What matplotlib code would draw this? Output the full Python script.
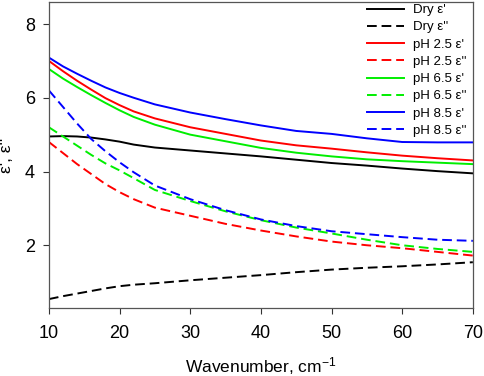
import matplotlib
matplotlib.use("Agg")
import matplotlib.pyplot as plt

plt.rcParams['font.family'] = ['Liberation Sans', 'DejaVu Sans']
plt.rcParams['mathtext.default'] = 'regular'

# wavenumber, cm-1
wn = [10, 12, 14, 16, 18, 20, 22, 25, 30, 35, 40, 45, 50, 55, 60, 65, 70]

# real part (eps') and imaginary part (eps'') for each sample
dry_re = [4.95, 4.96, 4.95, 4.92, 4.87, 4.81, 4.73, 4.65, 4.57, 4.49, 4.41, 4.32, 4.23, 4.16, 4.08, 4.01, 3.95]
dry_im = [0.54, 0.62, 0.69, 0.76, 0.83, 0.89, 0.93, 0.97, 1.05, 1.12, 1.19, 1.27, 1.34, 1.39, 1.43, 1.48, 1.54]
ph25_re = [7.00, 6.72, 6.46, 6.22, 5.99, 5.80, 5.63, 5.44, 5.20, 5.02, 4.84, 4.71, 4.62, 4.52, 4.43, 4.36, 4.30]
ph25_im = [4.80, 4.50, 4.20, 3.93, 3.66, 3.44, 3.25, 3.02, 2.80, 2.58, 2.40, 2.24, 2.10, 2.00, 1.92, 1.82, 1.72]
ph65_re = [6.78, 6.52, 6.29, 6.07, 5.86, 5.66, 5.48, 5.27, 5.00, 4.82, 4.64, 4.51, 4.41, 4.33, 4.28, 4.24, 4.20]
ph65_im = [5.20, 4.95, 4.70, 4.45, 4.22, 4.03, 3.82, 3.50, 3.20, 2.92, 2.68, 2.48, 2.32, 2.15, 2.00, 1.90, 1.82]
ph85_re = [7.09, 6.85, 6.65, 6.46, 6.28, 6.13, 6.00, 5.82, 5.60, 5.42, 5.25, 5.10, 5.02, 4.90, 4.80, 4.79, 4.79]
ph85_im = [6.20, 5.75, 5.30, 4.88, 4.55, 4.25, 3.98, 3.62, 3.25, 2.95, 2.70, 2.52, 2.38, 2.30, 2.22, 2.15, 2.12]

series = [
    ("Dry ε'", dry_re, 'black', '-'),
    ("Dry ε''", dry_im, 'black', '--'),
    ("pH 2.5 ε'", ph25_re, '#ff0000', '-'),
    ("pH 2.5 ε''", ph25_im, '#ff0000', '--'),
    ("pH 6.5 ε'", ph65_re, '#00ee00', '-'),
    ("pH 6.5 ε''", ph65_im, '#00ee00', '--'),
    ("pH 8.5 ε'", ph85_re, '#0000ff', '-'),
    ("pH 8.5 ε''", ph85_im, '#0000ff', '--'),
]

fig = plt.figure(figsize=(4.84, 3.76), dpi=100)
ax = fig.add_axes([0.101, 0.181, 0.876, 0.814])

for label, vals, col, ls in series:
    line, = ax.plot(wn, vals, color=col, ls=ls, lw=1.4, label=label)
    if ls == '--':
        line.set_dashes([5, 2.5])

ax.set_xlim(10, 70)
ax.set_ylim(0.3, 8.6)
ax.set_xticks([10, 20, 30, 40, 50, 60, 70])
ax.set_yticks([2, 4, 6, 8])
ax.tick_params(direction='out', length=4, width=0.8, labelsize=13, colors='#333333', labelcolor='black')
ax.tick_params(axis='x', pad=8)
ax.tick_params(axis='y', pad=6)
for s in ax.spines.values():
    s.set_color('#555555')
    s.set_linewidth(0.9)

ax.set_xlabel("Wavenumber, cm$^{-1}$", fontsize=12.5, labelpad=10)
ax.set_ylabel("ε', ε''", fontsize=12.5)
ax.yaxis.set_label_coords(-0.082, 0.5)

ax.legend(loc='upper right', bbox_to_anchor=(1.0, 1.015), frameon=False, fontsize=9.5,
          handlelength=2.8, handletextpad=0.68, labelspacing=0.38, borderaxespad=0.1)

fig.savefig("out.png", dpi=100)
